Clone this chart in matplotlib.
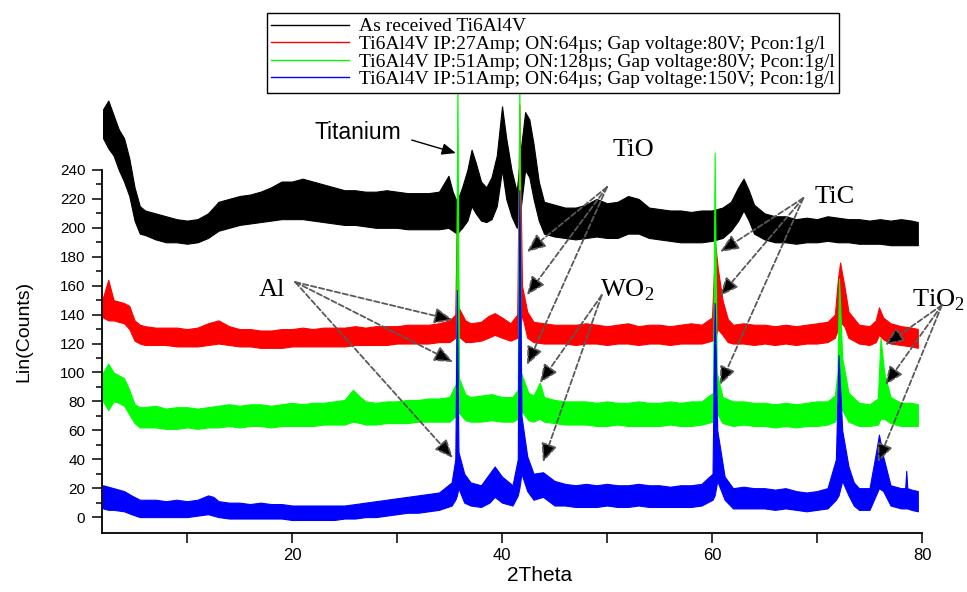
import matplotlib
matplotlib.use('Agg')
import matplotlib.pyplot as plt
from matplotlib.lines import Line2D
from matplotlib.ticker import FixedLocator
import numpy as np

as_received = [
    (2.0, 262, 282), (2.5, 255, 288), (3.0, 250, 278), (3.5, 240, 268), (4.0, 232, 262),
    (4.5, 222, 248), (5.0, 205, 228), (5.5, 196, 215), (6, 195, 212), (7, 192, 210),
    (8, 190, 208), (9, 190, 206), (10, 189, 205), (11, 190, 206), (12, 193, 210),
    (13, 198, 218), (14, 200, 220), (15, 202, 222), (16, 203, 223), (17, 204, 225),
    (18, 205, 228), (19, 206, 232), (20, 206, 232), (21, 206, 234), (22, 205, 232),
    (23, 204, 230), (24, 203, 228), (25, 202, 226), (26, 202, 226), (27, 201, 225),
    (28, 200, 225), (29, 200, 226), (30, 200, 225), (31, 199, 224), (32, 199, 224),
    (33, 199, 224), (34, 199, 225), (34.9, 200, 236), (35.3, 198, 225), (35.7, 196, 218),
    (36.2, 200, 228), (36.7, 205, 240), (37.1, 215, 254), (37.5, 210, 245), (38.0, 205, 232),
    (38.5, 204, 228), (39.0, 206, 235), (39.5, 215, 250), (40.0, 240, 284), (40.4, 220, 262),
    (40.9, 208, 240), (41.4, 200, 225), (41.8, 215, 255), (42.2, 240, 280), (42.6, 235, 275),
    (43.0, 220, 258), (43.5, 205, 232), (44, 196, 218), (45, 194, 216), (46, 193, 214),
    (47, 192, 214), (48, 193, 216), (49, 194, 220), (50, 193, 217), (51, 193, 218),
    (52, 196, 222), (53, 196, 220), (54, 193, 214), (55, 192, 213), (56, 191, 212),
    (57, 190, 212), (58, 190, 211), (59, 190, 212), (60, 191, 212), (61, 193, 214),
    (61.8, 198, 218), (62.5, 205, 228), (63.0, 212, 234), (63.5, 205, 226), (64, 196, 216),
    (65, 192, 210), (66, 190, 208), (67, 190, 208), (68, 189, 206), (69, 190, 207),
    (70, 190, 206), (71, 191, 208), (72, 190, 207), (73, 190, 206), (74, 189, 206),
    (75, 189, 205), (76, 189, 206), (77, 188, 205), (78, 188, 206), (79, 188, 205),
    (79.6, 188, 204),
]

ip27_on64 = [
    (2.0, 138, 152), (2.5, 136, 164), (3.0, 136, 150), (4.0, 134, 148), (4.5, 130, 146),
    (5.0, 122, 136), (5.5, 120, 133), (6, 119, 132), (7, 119, 131), (8, 119, 131),
    (9, 118, 131), (10, 118, 130), (11, 118, 131), (12, 119, 134), (13, 120, 136),
    (14, 119, 132), (15, 118, 130), (16, 118, 130), (17, 117, 129), (18, 117, 129),
    (19, 117, 130), (20, 118, 130), (21, 118, 131), (22, 118, 130), (23, 118, 131),
    (24, 118, 131), (25, 118, 131), (26, 119, 132), (27, 119, 131), (28, 119, 132),
    (29, 119, 132), (30, 120, 132), (31, 120, 133), (32, 120, 133), (33, 120, 133),
    (34, 121, 134), (35.0, 121, 136), (35.55, 124, 140), (35.7, 124, 214), (35.85, 125, 145),
    (36.5, 121, 136), (37, 121, 134), (38, 122, 135), (38.7, 124, 139), (39.3, 126, 141),
    (40, 124, 138), (40.8, 122, 134), (41.45, 124, 140), (41.65, 126, 285), (41.9, 140, 160),
    (42.4, 124, 142), (43, 121, 135), (44, 120, 134), (45, 120, 133), (46, 120, 133),
    (47, 119, 133), (48, 120, 134), (49, 120, 133), (50, 119, 132), (51, 120, 133),
    (52, 120, 134), (53, 119, 132), (54, 120, 133), (55, 120, 133), (56, 119, 132),
    (57, 120, 133), (58, 120, 134), (59, 120, 133), (60.0, 122, 138), (60.3, 124, 189),
    (60.55, 130, 172), (61.0, 126, 150), (61.5, 121, 137), (62, 120, 133), (63, 120, 134),
    (64, 119, 133), (65, 120, 133), (66, 119, 132), (67, 120, 133), (68, 119, 132),
    (69, 120, 133), (70, 120, 134), (71, 121, 135), (71.7, 124, 140), (72.0, 130, 165),
    (72.2, 135, 176), (72.6, 132, 160), (73.0, 124, 142), (74, 120, 133), (75, 119, 132),
    (75.6, 121, 136), (75.9, 126, 145), (76.3, 123, 138), (77, 120, 134), (78, 119, 132),
    (79, 118, 131), (79.6, 117, 130),
]

ip51_on128 = [
    (2.0, 80, 100), (2.5, 74, 106), (3.0, 80, 100), (3.5, 79, 98), (4.0, 77, 96),
    (4.5, 71, 88), (5.0, 65, 78), (5.5, 62, 76), (6, 62, 76), (7, 62, 77), (8, 61, 75),
    (9, 61, 76), (10, 62, 76), (11, 61, 75), (12, 62, 76), (13, 62, 77), (14, 63, 78),
    (15, 62, 77), (16, 63, 78), (17, 63, 78), (18, 62, 77), (19, 63, 78), (20, 63, 79),
    (21, 63, 78), (22, 63, 79), (23, 64, 79), (24, 64, 80), (25, 64, 81), (25.8, 66, 88),
    (26.5, 65, 83), (27, 64, 80), (28, 64, 79), (29, 65, 80), (30, 65, 80), (31, 65, 81),
    (32, 66, 81), (33, 66, 82), (34, 66, 82), (35.0, 66, 83), (35.6, 70, 92),
    (35.75, 72, 300), (35.9, 72, 96), (36.5, 67, 85), (37, 66, 83), (38, 66, 84),
    (39, 67, 85), (40, 66, 83), (41.0, 66, 83), (41.5, 68, 88), (41.65, 70, 300),
    (41.8, 74, 100), (42.5, 67, 86), (43.0, 66, 84), (43.6, 68, 93), (44, 66, 83),
    (45, 65, 81), (46, 64, 80), (47, 64, 80), (48, 64, 80), (49, 63, 79), (50, 63, 80),
    (51, 64, 79), (52, 63, 79), (53, 63, 80), (54, 63, 79), (55, 63, 79), (56, 64, 80),
    (57, 63, 79), (58, 63, 80), (59, 64, 80), (60.1, 66, 86), (60.25, 68, 252),
    (60.45, 72, 100), (61.0, 65, 83), (62, 63, 80), (63, 64, 80), (64, 63, 79),
    (65, 63, 79), (66, 62, 78), (67, 63, 79), (68, 62, 78), (69, 63, 79), (70, 63, 80),
    (71, 64, 80), (71.7, 66, 84), (71.95, 70, 100), (72.1, 74, 165), (72.4, 74, 110),
    (73.0, 66, 86), (74, 63, 79), (75, 63, 78), (75.8, 64, 82), (76.05, 68, 124),
    (76.4, 68, 100), (77, 65, 83), (78, 63, 79), (79, 63, 79), (79.6, 63, 78),
]

ip51_on64 = [
    (2.0, 6, 22), (2.5, 5, 21), (3, 5, 20), (4, 4, 18), (4.7, 2, 15), (5.5, 0, 12),
    (6, 0, 12), (7, 0, 12), (8, 0, 11), (9, 0, 12), (10, 0, 11), (11, 1, 12), (12, 2, 15),
    (12.5, 1, 14), (13, 0, 11), (14, -1, 10), (15, -1, 10), (16, -1, 9), (17, -1, 10),
    (18, -1, 9), (19, -1, 9), (20, -2, 8), (21, -2, 8), (22, -2, 8), (23, -2, 8),
    (24, -2, 8), (25, -1, 8), (26, -1, 9), (27, 0, 10), (28, 0, 11), (29, 1, 12),
    (30, 2, 13), (31, 3, 14), (32, 3, 15), (33, 4, 16), (34, 5, 17), (35.2, 8, 24),
    (35.55, 12, 40), (35.7, 15, 157), (35.85, 20, 45), (36.4, 10, 30), (37, 8, 24),
    (38, 7, 22), (38.8, 10, 30), (39.3, 14, 35), (40, 10, 28), (41.0, 8, 22),
    (41.5, 15, 40), (41.65, 20, 226), (41.85, 30, 70), (42.4, 18, 42), (43, 12, 30),
    (43.9, 14, 31), (45, 8, 25), (46, 8, 23), (47, 7, 22), (48, 7, 23), (49, 7, 22),
    (50, 8, 23), (51, 7, 22), (52, 7, 22), (53, 8, 23), (54, 7, 22), (55, 7, 22),
    (56, 7, 21), (57, 7, 22), (58, 7, 22), (59, 8, 23), (60.05, 12, 30), (60.25, 15, 148),
    (60.5, 25, 60), (61.2, 12, 28), (62, 6, 20), (63, 6, 21), (64, 6, 20), (65, 6, 20),
    (66, 5, 19), (67, 6, 20), (68, 5, 18), (69, 4, 17), (70, 5, 18), (71, 6, 20),
    (71.8, 12, 40), (72.05, 15, 112), (72.4, 25, 60), (73, 15, 35), (73.5, 8, 24),
    (74, 5, 20), (75, 5, 20), (75.6, 15, 44), (75.9, 20, 57), (76.3, 18, 42),
    (77, 8, 22), (78, 6, 20), (78.4, 6, 20), (78.5, 6, 32), (78.6, 6, 20), (79, 5, 19),
    (79.6, 4, 18),
]

series = [
    ("As received Ti6Al4V", as_received, "#000000"),
    ("Ti6Al4V IP:27Amp; ON:64µs; Gap voltage:80V; Pcon:1g/l", ip27_on64, "#ff0000"),
    ("Ti6Al4V IP:51Amp; ON:128µs; Gap voltage:80V; Pcon:1g/l", ip51_on128, "#00ff00"),
    ("Ti6Al4V IP:51Amp; ON:64µs; Gap voltage:150V; Pcon:1g/l", ip51_on64, "#0000ff"),
]

# ── anotaciones de fases: (texto, posición, [puntas de flecha], origen) ──
phase_labels = [
    ("Al", (18.1, 157), [(35.33, 136.2), (35.33, 107.2), (35.33, 40.8)], (20.3, 162.5)),
    ("TiO", (52.5, 254), [(42.38, 183.3), (42.38, 153.5), (42.38, 105.1)], (50.0, 228.2)),
    (r"WO$_\mathregular{2}$", (51.9, 157), [(43.6, 92.7), (43.9, 38.0)], (49.5, 153.5)),
    ("TiC", (71.7, 221), [(60.76, 183.3), (60.76, 152.8), (60.76, 91.3)], (68.7, 220.6)),
    (r"TiO$_\mathregular{2}$", (81.6, 150), [(76.5, 119), (76.5, 91.3), (75.8, 38)], (81.9, 146.6)),
]

plt.rcParams['font.family'] = ['Liberation Sans', 'DejaVu Sans']

fig = plt.figure(figsize=(9.67, 5.92), dpi=100)
ax = fig.add_axes([102/967, 1 - 533/592, 820/967, 443/592])

for name, pts, color in series:
    arr = np.array(pts, dtype=float)
    ax.fill_between(arr[:, 0], arr[:, 1], arr[:, 2], color=color, lw=0.8)

ax.set_xlim(1.9, 80)
ax.set_ylim(-11, 295.3)

ax.spines['top'].set_visible(False)
ax.spines['right'].set_visible(False)
ax.spines['left'].set_bounds(-11, 240)
ax.spines['left'].set_linewidth(1.3)
ax.spines['bottom'].set_linewidth(1.3)

ax.xaxis.set_major_locator(FixedLocator([20, 40, 60, 80]))
ax.xaxis.set_minor_locator(FixedLocator([10, 30, 50, 70]))
ax.yaxis.set_major_locator(FixedLocator(list(range(0, 241, 20))))
ax.yaxis.set_minor_locator(FixedLocator(list(range(10, 240, 20))))
ax.tick_params(which='both', direction='out', width=1.1)
ax.tick_params(axis='y', which='major', length=7, labelsize=11, pad=5)
ax.tick_params(axis='y', which='minor', length=4)
ax.tick_params(axis='x', which='major', length=7, labelsize=12, pad=4)
ax.tick_params(axis='x', which='minor', length=7)

ax.set_xlabel("2Theta", fontsize=15)
ax.set_ylabel("Lin(Counts)", fontsize=14)
ax.xaxis.set_label_coords(0.534, -0.075)
ax.yaxis.set_label_coords(-0.085, 0.454)

# etiqueta Titanium con flecha continua
ax.text(26.3, 265.6, "Titanium", fontsize=16.5, ha='center', va='center')
ax.annotate("", xy=(35.6, 251.7), xytext=(31.4, 260.7), annotation_clip=False,
            arrowprops=dict(arrowstyle='-|>,head_length=0.6,head_width=0.25',
                            color='k', lw=1, shrinkA=0, shrinkB=0, mutation_scale=14))

serif = ['Liberation Serif', 'DejaVu Serif']
for text, pos, tips, origin in phase_labels:
    ax.text(pos[0], pos[1], text, fontsize=19, family=serif, ha='center', va='center',
            clip_on=False)
    for tip in tips:
        ax.annotate("", xy=tip, xytext=origin, annotation_clip=False,
                    arrowprops=dict(arrowstyle='-|>,head_length=0.7,head_width=0.3',
                                    ls=(0, (3, 1.5)), lw=1.3, ec='0.35', fc='k',
                                    shrinkA=0, shrinkB=0, mutation_scale=16))

handles = [Line2D([], [], color=c, lw=1) for _, _, c in series]
labels = [n for n, _, _ in series]
leg = fig.legend(handles, labels, loc='upper center', bbox_to_anchor=(553/967, 1 - 13/592),
                 prop={'family': serif, 'size': 14}, fancybox=False, edgecolor='k',
                 framealpha=1, borderpad=0.25, labelspacing=0.0, handlelength=4.0,
                 handletextpad=0.5, borderaxespad=0)
leg.get_frame().set_linewidth(1)

fig.savefig("out.png", dpi=100)
